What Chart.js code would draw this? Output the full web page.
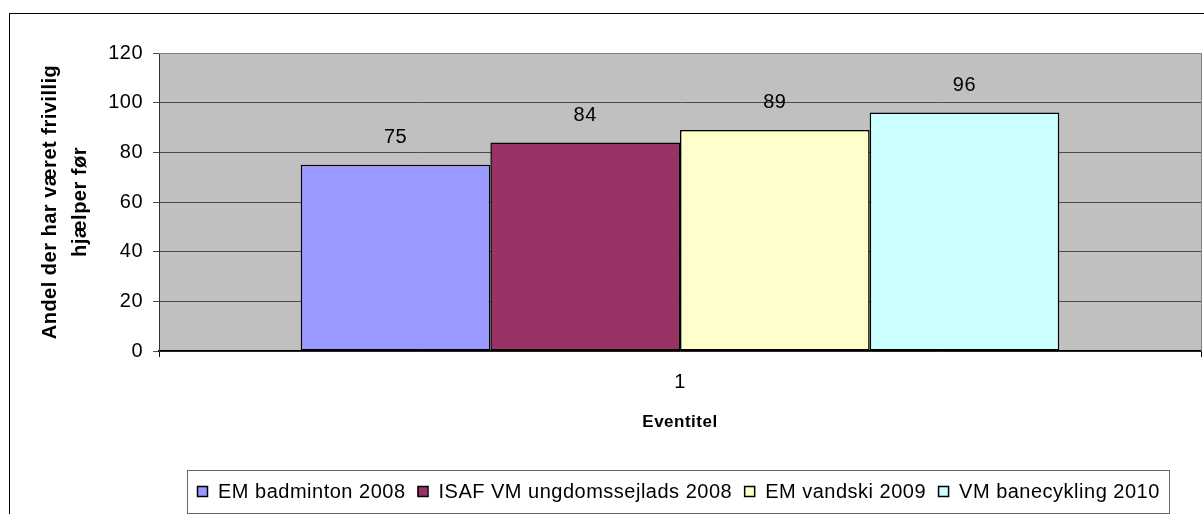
<!DOCTYPE html>
<html>
<head>
<meta charset="utf-8">
<script src="https://cdn.jsdelivr.net/npm/chart.js@4.4.1/dist/chart.umd.min.js"></script>
<style>
  body { margin: 0; background: #fff; }
  #graf { position: absolute; left: 0; top: 0; }
</style>
</head>
<body>
<canvas id="graf" width="1204" height="514"></canvas>
<script>
const kategorier = ['1'];
const serieNavne = ['EM badminton 2008', 'ISAF VM ungdomssejlads 2008', 'EM vandski 2009', 'VM banecykling 2010'];
const serieVaerdier = [75, 84, 89, 96];
const serieFarver = ['#9999FF', '#993366', '#FFFFCC', '#CCFFFF'];
const yMin = 0, yMax = 120, yStep = 20;

const skrift = 'Liberation Sans, Arial, sans-serif';

const datasaet = serieNavne.map((navn, i) => ({
    label: navn,
    data: [serieVaerdier[i]],
    backgroundColor: serieFarver[i],
    borderColor: '#000',
    borderWidth: 1.5,
    borderSkipped: false,
    barPercentage: 1,
    categoryPercentage: 0.728
}));

// lidt ekstra afstand mellem bogstaverne, som i Excel
const bogstavAfstand = {
    id: 'bogstavAfstand',
    beforeUpdate(chart) { chart.ctx.letterSpacing = '0.5px'; },
    beforeDraw(chart) { chart.ctx.letterSpacing = '0.5px'; }
};

const baggrund = {
    id: 'baggrund',
    beforeDraw(chart) {
        const ctx = chart.ctx;
        const a = chart.chartArea;
        ctx.save();
        ctx.fillStyle = '#fff';
        ctx.fillRect(0, 0, chart.width, chart.height);
        ctx.strokeStyle = '#000';
        ctx.lineWidth = 1;
        ctx.strokeRect(9.5, 13.5, chart.width, chart.height);
        ctx.fillStyle = '#C0C0C0';
        ctx.fillRect(a.left, a.top, a.right - a.left, a.bottom - a.top);
        ctx.restore();
    },
    afterDraw(chart) {
        const ctx = chart.ctx;
        const a = chart.chartArea;
        ctx.save();
        ctx.strokeStyle = '#808080';
        ctx.lineWidth = 1;
        ctx.beginPath();
        ctx.moveTo(a.left, a.top + 0.5);
        ctx.lineTo(a.right + 0.5, a.top + 0.5);
        ctx.lineTo(a.right + 0.5, a.bottom);
        ctx.stroke();
        ctx.restore();
    }
};

const vaerdiEtiketter = {
    id: 'vaerdiEtiketter',
    afterDatasetsDraw(chart) {
        const ctx = chart.ctx;
        ctx.save();
        ctx.font = '20px ' + skrift;
        ctx.fillStyle = '#000';
        ctx.textAlign = 'center';
        ctx.textBaseline = 'middle';
        chart.data.datasets.forEach((ds, i) => {
            chart.getDatasetMeta(i).data.forEach((bar, j) => {
                ctx.fillText(ds.data[j], bar.x, bar.y - 27);
            });
        });
        ctx.restore();
    }
};

const forklaring = {
    id: 'forklaring',
    afterDraw(chart) {
        const ctx = chart.ctx;
        const boks = { left: 187, top: 470, right: 1169, bottom: 513 };
        ctx.save();
        ctx.strokeStyle = '#666';
        ctx.lineWidth = 1;
        ctx.strokeRect(boks.left + 0.5, boks.top + 0.5, boks.right - boks.left, boks.bottom - boks.top);
        ctx.font = '20px ' + skrift;
        ctx.textBaseline = 'middle';
        const kvadrat = 10, afstand = 11, mellem = 12;
        const bredder = chart.data.datasets.map(ds => ctx.measureText(ds.label).width);
        let total = bredder.reduce((s, b) => s + kvadrat + afstand + b, 0) + mellem * (bredder.length - 1);
        let x = Math.round((boks.left + boks.right) / 2 - total / 2);
        const midt = 491;
        chart.data.datasets.forEach((ds, i) => {
            ctx.fillStyle = ds.backgroundColor;
            ctx.fillRect(x, midt - 5, kvadrat, kvadrat);
            ctx.strokeStyle = '#000';
            ctx.lineWidth = 1.5;
            ctx.strokeRect(x + 0.5, midt - 5 + 0.5, kvadrat, kvadrat);
            ctx.fillStyle = '#000';
            ctx.fillText(ds.label, x + kvadrat + afstand, midt + 1);
            x += kvadrat + afstand + bredder[i] + mellem;
        });
        ctx.restore();
    }
};

new Chart(document.getElementById('graf'), {
    type: 'bar',
    data: {
        labels: kategorier,
        datasets: datasaet
    },
    options: {
        responsive: false,
        animation: false,
        layout: { padding: { left: 0, top: 53, right: 3, bottom: 43 } },
        plugins: {
            legend: { display: false },
            tooltip: { enabled: false }
        },
        scales: {
            x: {
                afterFit(scale) { scale.height = 120; },
                grid: { drawOnChartArea: false, tickLength: 6, color: '#000' },
                border: { color: '#000', width: 1.5 },
                ticks: { color: '#000', padding: 13, font: { family: skrift, size: 20 } },
                title: {
                    display: true,
                    text: 'Eventitel',
                    color: '#000',
                    font: { family: skrift, size: 17, weight: 'bold' },
                    padding: { top: 0, bottom: 38 }
                }
            },
            y: {
                min: yMin,
                max: yMax,
                afterFit(scale) { scale.width = 159; },
                grid: { color: '#4a4a4a', tickLength: 6, lineWidth: 1 },
                border: { color: '#333', width: 1 },
                ticks: { stepSize: yStep, color: '#000', padding: 10, font: { family: skrift, size: 20 } },
                title: {
                    display: true,
                    text: ['Andel der har været frivillig', 'hjælper før'],
                    color: '#000',
                    font: { family: skrift, size: 20, weight: 'bold', lineHeight: '30px' },
                    padding: { top: 35, bottom: 0 }
                }
            }
        }
    },
    plugins: [bogstavAfstand, baggrund, vaerdiEtiketter, forklaring]
});
</script>
</body>
</html>
